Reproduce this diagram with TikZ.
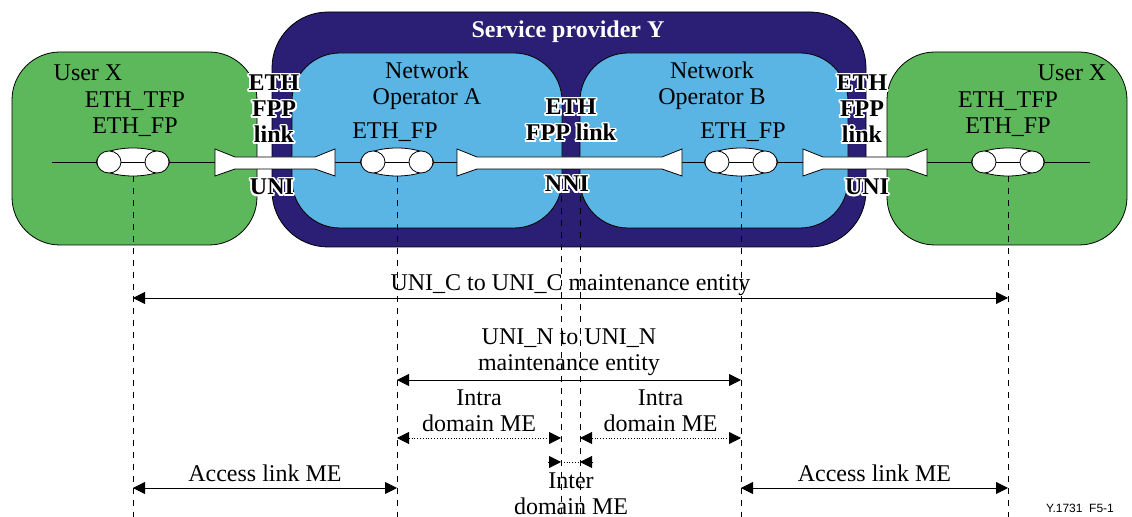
\documentclass[tikz,border=0pt]{standalone}
\usepackage{fontspec}
\setmainfont{Liberation Serif}
\setsansfont{Liberation Sans}
\usepackage{contour}
\contourlength{0.9pt}
\usetikzlibrary{positioning, arrows.meta, shapes.geometric}

\definecolor{userGreen}{RGB}{92,184,90}
\definecolor{opBlue}{RGB}{90,180,228}
\definecolor{spNavy}{RGB}{42,30,117}

\newcommand{\fpplink}[2]{%
  \draw[linkbar] (#1,149) -- (#1+20,157) -- (#2-20,157) -- (#2,149)
    -- (#2,176) -- (#2-20,169) -- (#1+20,169) -- (#1,176) -- cycle;}

\begin{document}
\begin{tikzpicture}[x=0.5pt, y=-0.5pt, >={Triangle[length=6pt,width=6pt]},
    every node/.style={font=\fontsize{12}{13}\selectfont, align=center, inner sep=0pt},
    ifc/.style={font=\fontsize{12}{13}\selectfont\bfseries},
    fpsym/.style={ellipse, draw, fill=white, minimum width=36.5pt, minimum height=14pt},
    guide/.style={dashed, thin},
    dimline/.style={<->, thin},
    linkbar/.style={draw, fill=white, thin}]
    \useasboundingbox (0,0) rectangle (1132,517);

    % domains
    \filldraw[fill=userGreen, rounded corners=24pt] (12,52) rectangle (257,245);
    \filldraw[fill=userGreen, rounded corners=24pt] (887,52) rectangle (1127,245);
    \filldraw[fill=spNavy, rounded corners=28pt] (272,12) rectangle (866,247);
    \filldraw[fill=opBlue, rounded corners=24pt] (292,53) rectangle (562,228);
    \filldraw[fill=opBlue, rounded corners=24pt] (580,53) rectangle (848,228);

    % ETH layer
    \coordinate (lineW) at (52,162);
    \coordinate (lineE) at (1090,162);
    \draw (lineW) -- (lineE);
    \fpplink{215}{335}
    \fpplink{457}{682}
    \fpplink{803}{927}

    \node[fpsym] (fpUserL) at (133,162) {};
    \node[fpsym] (fpOpA) at (397,162) {};
    \node[fpsym] (fpOpB) at (741,162) {};
    \node[fpsym] (fpUserR) at (1008,162) {};
    \foreach \n in {fpUserL,fpOpA,fpOpB,fpUserR} {
        \draw (\n.center) ++(-24,0) -- ++(48,0);
        \draw[fill=white] (\n.center) ++(-24,0) ellipse [x radius=12, y radius=11];
        \draw[fill=white] (\n.center) ++(24,0) ellipse [x radius=12, y radius=11];
    }

    % labels
    \node (userL) at (88,73) {User X};
    \node (userR) at (1072,73) {User X};
    \node (tfpL) at (135,114) {ETH\_TFP\\ETH\_FP};
    \node (tfpR) at (1008,114) {ETH\_TFP\\ETH\_FP};
    \node (opA) at (427,86) {Network\\Operator A};
    \node (opB) at (712,86) {Network\\Operator B};
    \node (fpLabA) at (395,132) {ETH\_FP};
    \node (fpLabB) at (743,132) {ETH\_FP};
    \node[ifc, text=white] (sp) at (568,32) {Service provider Y};

    \node[ifc] (linkL) at (274,110) {\contour{white}{ETH}\\\contour{white}{FPP}\\\contour{white}{link}};
    \node[ifc] (uniL) at (272,188) {\contour{white}{UNI}};
    \node[ifc] (linkM) at (571,121) {\contour{white}{ETH}\\\contour{white}{FPP link}};
    \node[ifc] (nni) at (567,185) {\contour{white}{NNI}};
    \node[ifc] (linkR) at (862,110) {\contour{white}{ETH}\\\contour{white}{FPP}\\\contour{white}{link}};
    \node[ifc] (uniR) at (867,188) {\contour{white}{UNI}};

    % maintenance entities
    \coordinate (base) at (0,517);
    \coordinate (nniW) at (561,196);
    \coordinate (nniE) at (580,196);
    \coordinate (rowC) at (0,298);
    \coordinate (rowN) at (0,380);
    \coordinate (rowIntra) at (0,438);
    \coordinate (interW) at (561,462);
    \coordinate (interE) at (580,462);
    \coordinate (rowAcc) at (0,488);

    \foreach \n in {fpUserL,fpOpA,fpOpB,fpUserR}
        \draw[guide] (\n.south) -- (\n.south |- base);
    \draw[guide] (nniW) -- (nniW |- base);
    \draw[guide] (nniE) -- (nniE |- base);

    \draw[dimline] (fpUserL |- rowC) -- node[above=1pt] {UNI\_C to UNI\_C maintenance entity} (fpUserR |- rowC);
    \draw[dimline] (fpOpA |- rowN) -- node[above=2pt] {UNI\_N to UNI\_N\\maintenance entity} (fpOpB |- rowN);
    \draw[dimline, densely dotted] (fpOpA |- rowIntra) -- node[above=3pt] {Intra\\domain ME} (nniW |- rowIntra);
    \draw[dimline, densely dotted] (nniE |- rowIntra) -- node[above=3pt] {Intra\\domain ME} (fpOpB |- rowIntra);
    \draw[densely dotted] (interW) -- (interE);
    \draw[->] (interW) ++(-13,0) -- (interW);
    \draw[->] (interE) ++(13,0) -- (interE);
    \node (inter) at (571,494) {Inter\\domain ME};
    \draw[dimline] (fpUserL |- rowAcc) -- node[above=3pt] {Access link ME} (fpOpA |- rowAcc);
    \draw[dimline] (fpOpB |- rowAcc) -- node[above=3pt] {Access link ME} (fpUserR |- rowAcc);

    \node[font=\sffamily\fontsize{6}{7}\selectfont] (figId) at (1080,508) {Y.1731\ \ F5-1};
\end{tikzpicture}
\end{document}
